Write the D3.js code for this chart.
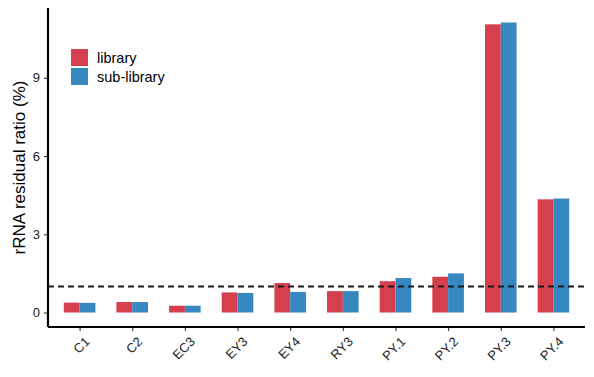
<!DOCTYPE html>
<html>
<head>
<meta charset="utf-8">
<script src="https://cdn.jsdelivr.net/npm/d3@7"></script>
<style>
  body { margin: 0; background: #fff; }
  text { font-family: "Liberation Sans", Arial, sans-serif; }
</style>
</head>
<body>
<svg id="chart" width="594" height="377"></svg>
<script>
var samples = ["C1", "C2", "EC3", "EY3", "EY4", "RY3", "PY.1", "PY.2", "PY.3", "PY.4"];
var groups = ["library", "sub-library"];
var libraryVals = [0.38, 0.40, 0.26, 0.77, 1.13, 0.82, 1.20, 1.37, 11.05, 4.34];
var subLibraryVals = [0.37, 0.40, 0.26, 0.75, 0.79, 0.82, 1.32, 1.50, 11.12, 4.37];
var yTicks = [0, 3, 6, 9];
var threshold = 1;
var colors = ["#D6404E", "#3787C0"];

var margin = {top: 8, right: 9, bottom: 50, left: 48};
var width = 594, height = 377;

var svg = d3.select("#chart");

var rows = [];
samples.forEach(function(s, i) {
  rows.push({sample: s, group: groups[0], value: libraryVals[i]});
  rows.push({sample: s, group: groups[1], value: subLibraryVals[i]});
});

var maxV = d3.max(rows, function(d) { return d.value; });
var pad = maxV * 0.05;

// discrete scale with ggplot-like 0.6 expansion
var x = d3.scalePoint().domain(samples)
  .range([margin.left, width - margin.right]).padding(0.6);
var step = x.step();

var xInner = d3.scaleBand().domain(groups)
  .range([-step * 0.3, step * 0.3]).padding(0);

var y = d3.scaleLinear().domain([-pad, maxV + pad])
  .range([height - margin.bottom, margin.top]);

// bars
svg.append("g").selectAll("rect").data(rows).enter()
  .append("rect")
  .attr("x", function(d) { return x(d.sample) + xInner(d.group); })
  .attr("y", function(d) { return y(d.value); })
  .attr("width", xInner.bandwidth())
  .attr("height", function(d) { return y(0) - y(d.value); })
  .attr("fill", function(d) { return colors[groups.indexOf(d.group)]; });

// dashed reference line
svg.append("line")
  .attr("x1", margin.left)
  .attr("x2", width - margin.right)
  .attr("y1", y(threshold))
  .attr("y2", y(threshold))
  .attr("stroke", "#1a1a1a")
  .attr("stroke-width", 2)
  .attr("stroke-dasharray", "6,4");

// y axis
var yAxis = d3.axisLeft(y).tickValues(yTicks).tickSize(4).tickPadding(4);
var gy = svg.append("g")
  .attr("transform", "translate(" + margin.left + ",0)")
  .call(yAxis);
gy.select(".domain").remove();
gy.append("line")
  .attr("x1", 0).attr("x2", 0)
  .attr("y1", margin.top).attr("y2", height - margin.bottom)
  .attr("stroke", "#000").attr("stroke-width", 2.2);
gy.selectAll(".tick line").attr("stroke", "#333").attr("stroke-width", 1.1);
gy.selectAll(".tick text").attr("fill", "#222").style("font-size", "13px");

// x axis
var xAxis = d3.axisBottom(x).tickSize(4).tickPadding(4);
var gx = svg.append("g")
  .attr("transform", "translate(0," + (height - margin.bottom) + ")")
  .call(xAxis);
gx.select(".domain").remove();
gx.append("line")
  .attr("x1", margin.left).attr("x2", width - margin.right)
  .attr("y1", 0).attr("y2", 0)
  .attr("stroke", "#000").attr("stroke-width", 2.2);
gx.selectAll(".tick line").attr("stroke", "#333").attr("stroke-width", 1.1);
gx.selectAll(".tick text")
  .attr("fill", "#222")
  .style("font-size", "13px")
  .attr("text-anchor", "end")
  .attr("x", 0).attr("y", 0)
  .attr("dy", "0.7em")
  .attr("transform", "translate(4,9) rotate(-45)");

// y title
svg.append("text")
  .attr("transform", "translate(25," + ((margin.top + height - margin.bottom) / 2) + ") rotate(-90)")
  .attr("text-anchor", "middle")
  .style("font-size", "17px")
  .attr("fill", "#000")
  .text("rRNA residual ratio (%)");

// legend
var legend = svg.append("g").attr("transform", "translate(71,49)");
groups.forEach(function(g, i) {
  legend.append("rect")
    .attr("x", 0).attr("y", i * 19)
    .attr("width", 17).attr("height", 17)
    .attr("fill", colors[i]);
  legend.append("text")
    .attr("x", 26).attr("y", i * 19 + 8.5)
    .attr("dy", "0.35em")
    .style("font-size", "14.5px")
    .attr("fill", "#000")
    .text(g);
});
</script>
</body>
</html>
